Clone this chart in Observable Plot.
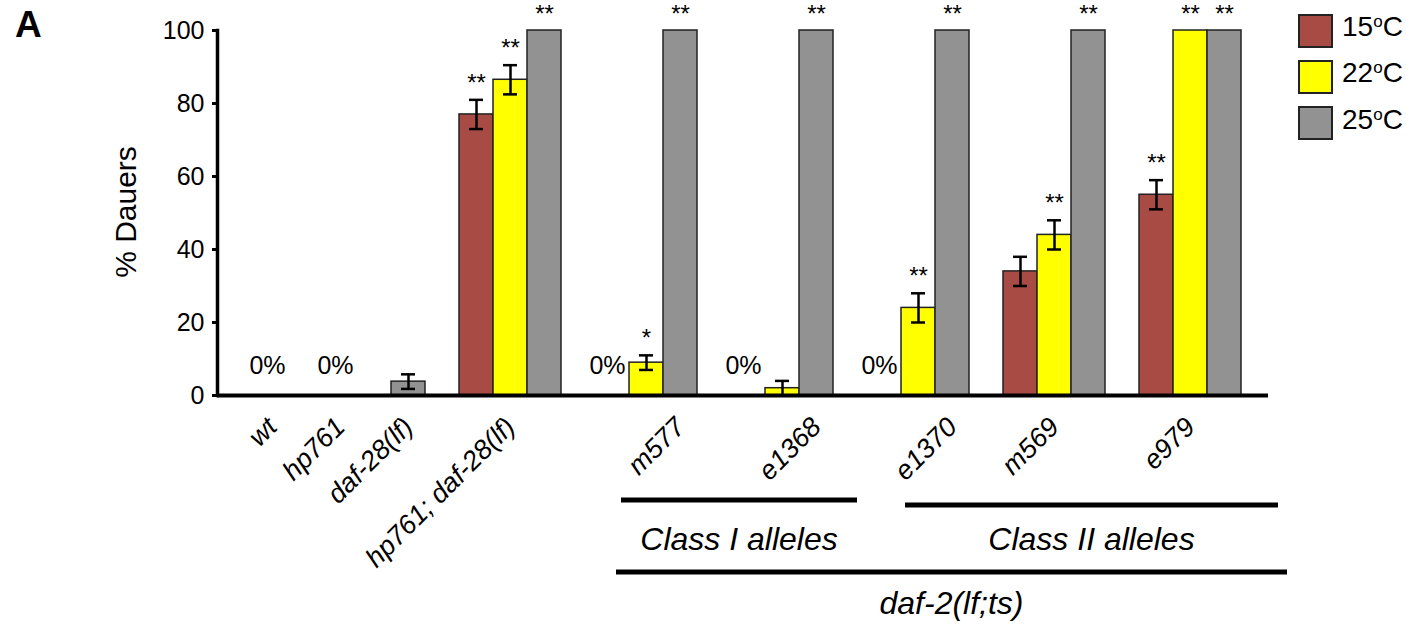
<!DOCTYPE html>
<html><head><meta charset="utf-8">
<script src="https://cdn.jsdelivr.net/npm/d3@7"></script>
<script src="https://cdn.jsdelivr.net/npm/@observablehq/plot@0.6"></script>
<style>
html,body{margin:0;padding:0;background:#fff;}
#chart{position:relative;width:1406px;height:629px;overflow:hidden;}
#chart svg{font-family:"Liberation Sans",Arial,Helvetica,sans-serif;}
</style></head><body><div id="chart"></div>
<script>
// ---- data ----
const genotypes = ["wt","hp761","daf-28(lf)","hp761; daf-28(lf)","m577","e1368","e1370","m569","e979"];
const temps = ["15","22","25"];
const tempColors = ["#a84b45","#ffff00","#929292"];
const dauer15 = [null,null,null,77,0,0,0,34,55];
const dauer22 = [null,null,null,86.5,9,2,24,44,100];
const dauer25 = [0,0,3.8,100,100,100,100,100,100];
const err15 = [0,0,0,4,0,0,0,4,4];
const err22 = [0,0,0,4,2,2,4,4,0];
const err25 = [0,0,2,0,0,0,0,0,0];
const sig15 = ["","","","**","","","","","**"];
const sig22 = ["","","","**","*","","**","**","**"];
const sig25 = ["","","","**","**","**","**","**","**"];
const yTicks = [0,20,40,60,80,100];
const classI = ["m577","e1368"];
const classII = ["e1370","m569","e979"];
const daf2 = ["m577","e1368","e1370","m569","e979"];
const bracketLabels = ["Class I alleles","Class II alleles","daf-2(lf;ts)"];
const yLabel = "% Dauers";
const panelLabel = "A";

// ---- build table ----
const values = [dauer15, dauer22, dauer25];
const errs = [err15, err22, err25];
const sigs = [sig15, sig22, sig25];
const rows = [];
const slots = [];
genotypes.forEach((g, gi) => {
  if (gi > 0) slots.push("gap" + gi);
  temps.forEach((t, ti) => {
    const v = values[ti][gi];
    if (v === null || v === undefined) return;
    const slot = g + "|" + t;
    slots.push(slot);
    rows.push({genotype: g, temp: t, slot, value: v, err: errs[ti][gi], sig: sigs[ti][gi]});
  });
});
const bars = rows.filter(d => d.value > 0);
const zeros = rows.filter(d => d.value === 0);
const errRows = rows.filter(d => d.err > 0);
const starRows = rows.filter(d => d.sig);
const labelRows = genotypes.map(g => {
  const own = rows.filter(d => d.genotype === g);
  const vis = own.filter(d => d.value > 0);
  const list = vis.length ? vis : own;
  return list[Math.floor(list.length / 2)];
});

const FONT = '"Liberation Sans",Arial,Helvetica,sans-serif';

const plot = Plot.plot({
  width: 1406, height: 629,
  marginLeft: 217, marginRight: 138, marginTop: 30, marginBottom: 234,
  x: {domain: slots, range: [246, 1249], padding: 0, axis: null},
  y: {domain: [0, 100], axis: null},
  color: {domain: temps, range: tempColors},
  style: {fontFamily: FONT, background: "transparent", color: "#000", overflow: "visible"},
  marks: [
    Plot.barY(bars, {x: "slot", y: "value", fill: "temp", stroke: "#222", strokeWidth: 1.5}),
    Plot.ruleX(errRows, {x: "slot", y1: d => d.value - d.err, y2: d => d.value + d.err, stroke: "#000", strokeWidth: 2.5}),
    Plot.tickY(errRows, {x: "slot", y: d => d.value + d.err, insetLeft: 10, insetRight: 10, stroke: "#000", strokeWidth: 2.5}),
    Plot.tickY(errRows, {x: "slot", y: d => d.value - d.err, insetLeft: 10, insetRight: 10, stroke: "#000", strokeWidth: 2.5}),
    Plot.ruleY([0], {stroke: "#000", strokeWidth: 4}),
    Plot.frame({anchor: "left", stroke: "#000", strokeWidth: 3.5}),
    Plot.axisY({ticks: yTicks, tickSize: 5, tickPadding: 8, fontSize: 25, strokeWidth: 3, label: null, tickFormat: d => String(d)}),
    Plot.text(starRows, {x: "slot", y: d => d.value + d.err, text: "sig", dy: -9, lineAnchor: "bottom", fontSize: 24, fill: "#000"}),
    Plot.text(zeros, {x: "slot", y: () => 0, text: () => "0%", dx: -5, dy: -22, lineAnchor: "bottom", fontSize: 25, fill: "#000"}),
    Plot.text(labelRows, {x: "slot", y: () => 0, text: "genotype", rotate: -45, textAnchor: "end", lineAnchor: "middle", dx: 0, dy: 27, fontSize: 27, fontStyle: "italic", fill: "#000"})
  ]
});
document.getElementById("chart").appendChild(plot);

// ---- annotations using the plot's scales ----
const svg = d3.select(plot);
const sx = plot.scale("x");
const sy = plot.scale("y");
const bw = sx.bandwidth;
const base = sy.apply(0);
function span(list) {
  const ss = rows.filter(d => list.includes(d.genotype)).map(d => sx.apply(d.slot));
  return [d3.min(ss), d3.max(ss) + bw];
}
const brackets = [
  {list: classI, label: bracketLabels[0], ly: 105, ty: 155, pad: [26, 24]},
  {list: classII, label: bracketLabels[1], ly: 110, ty: 155, pad: [38, 37]},
  {list: daf2, label: bracketLabels[2], ly: 177, ty: 219, pad: [21, 46]}
];
brackets.forEach(b => {
  const [a, e] = span(b.list);
  const x1 = a + b.pad[0], x2 = e + b.pad[1];
  svg.append("line").attr("x1", x1).attr("x2", x2).attr("y1", base + b.ly).attr("y2", base + b.ly)
    .attr("stroke", "#000").attr("stroke-width", 5);
  svg.append("text").attr("x", (x1 + x2) / 2).attr("y", base + b.ty).attr("text-anchor", "middle")
    .attr("font-size", 32).attr("font-style", "italic").attr("fill", "#000").text(b.label);
});

// y label
svg.append("text").attr("transform", `translate(136,212) rotate(-90)`).attr("text-anchor", "middle")
  .attr("font-size", 30).attr("fill", "#000").text(yLabel);
// panel label
svg.append("text").attr("x", 15).attr("y", 37).attr("text-anchor", "start").attr("font-size", 37).attr("font-weight", "bold")
  .attr("fill", "#000").text(panelLabel);

// legend
const lg = svg.append("g").attr("text-anchor", "start");
temps.forEach((t, i) => {
  const y0 = 15 + i * 46;
  lg.append("rect").attr("x", 1299).attr("y", y0).attr("width", 33).attr("height", 32)
    .attr("fill", tempColors[i]).attr("stroke", "#222").attr("stroke-width", 2);
  const tx = lg.append("text").attr("x", 1342).attr("y", y0 + 20.5 + (i === 2 ? 1 : 0)).attr("text-anchor", "start")
    .attr("font-size", 28).attr("fill", "#000");
  tx.append("tspan").text(t);
  tx.append("tspan").attr("font-size", 17).attr("dy", -9).text("o");
  tx.append("tspan").attr("dy", 9).text("C");
});
</script>
</body></html>
